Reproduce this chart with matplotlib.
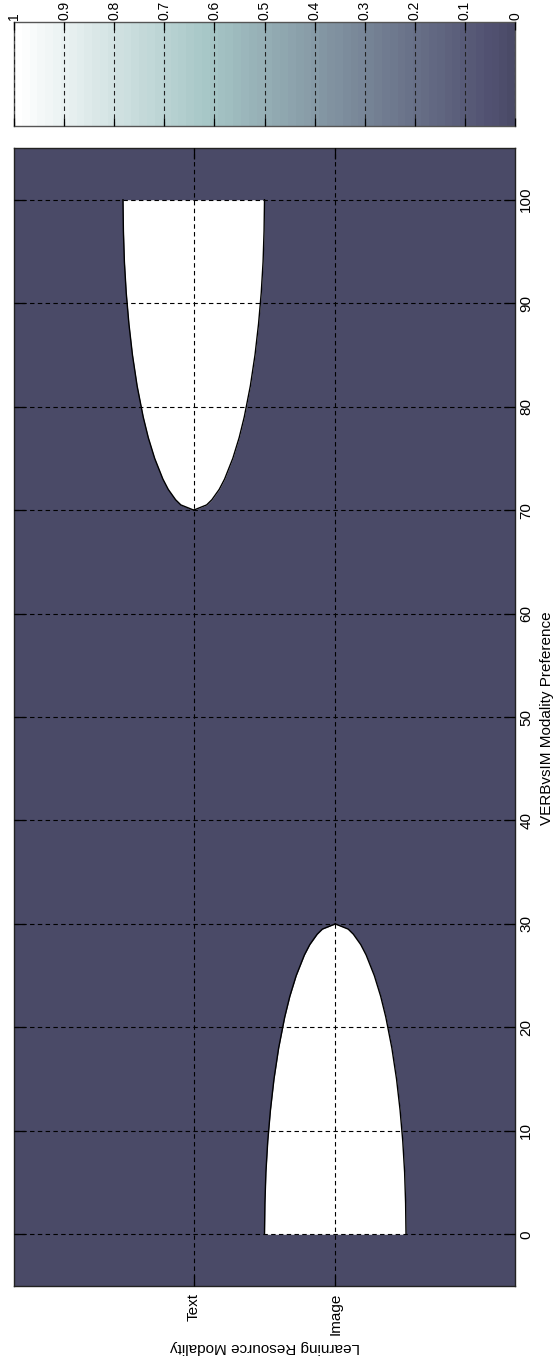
import numpy as np
import matplotlib.pyplot as plt
from matplotlib.colors import ListedColormap

plt.rcParams['font.family'] = ['Liberation Sans', 'DejaVu Sans']

# --- data ---
modality_labels = ['Image', 'Text']
modality_pos = [1, 2]
verb_ticks = [0, 10, 20, 30, 40, 50, 60, 70, 80, 90, 100]
cbar_ticks = [0, 0.1, 0.2, 0.3, 0.4, 0.5, 0.6, 0.7, 0.8, 0.9, 1]
cbar_labels = ['0', '0.1', '0.2', '0.3', '0.4', '0.5', '0.6', '0.7', '0.8', '0.9', '1']

# white (value 1) region: half width around each modality row
image_verb = [0, 3, 6, 9, 12, 15, 18, 21, 23, 25, 27, 28, 29, 29.5, 30]
image_half = [0.50, 0.497, 0.490, 0.477, 0.458, 0.433, 0.400, 0.357, 0.321,
              0.276, 0.218, 0.180, 0.128, 0.091, 0.0]
text_verb = [100, 97, 94, 91, 88, 85, 82, 79, 77, 75, 73, 72, 71, 70.5, 70]
text_half = [0.50, 0.497, 0.490, 0.477, 0.458, 0.433, 0.400, 0.357, 0.321,
             0.276, 0.218, 0.180, 0.128, 0.091, 0.0]

# colormap: upper part of bone, 64 steps
cmap = ListedColormap(plt.cm.bone(np.linspace(0.335, 1.0, 64)))

W, H = 554, 1357
fig = plt.figure(figsize=(W / 100, H / 100), dpi=100)

# main axes (drawn already turned on its side)
ax = fig.add_axes([14 / W, 1 - 1286 / H, 501 / W, 1138 / H])
ax.set_facecolor(cmap(0.0))

for centre, verb, half in [(1, image_verb, image_half), (2, text_verb, text_half)]:
    v = np.array(verb)
    h = np.array(half)
    ax.fill_betweenx(v, centre - h, centre + h, color=cmap(1.0), lw=0, zorder=1)
    ax.plot(centre - h, v, color='k', lw=1.0, zorder=2)
    ax.plot(centre + h, v, color='k', lw=1.0, zorder=2)

ax.set_xlim(3.27, -0.27)
ax.set_ylim(-5, 105)
ax.set_xticks(modality_pos)
ax.set_xticklabels(modality_labels, rotation=90, va='top', ha='center')
ax.set_yticks(verb_ticks)
ax.set_yticklabels([str(t) for t in verb_ticks], rotation=90, va='center', ha='left')
ax.yaxis.tick_right()
ax.tick_params(direction='in', length=8, width=0.9, top=True, bottom=True,
               left=True, right=True, labelleft=False, labelright=True,
               labelsize=11, colors='k')
ax.tick_params(axis='x', pad=5)
ax.tick_params(axis='y', pad=3)
ax.set_axisbelow(False)
ax.grid(True, color='k', linestyle=(0, (4, 3)), linewidth=0.8)
for s in ax.spines.values():
    s.set_color('#222222')
    s.set_linewidth(1.0)

# colorbar
cax = fig.add_axes([14 / W, 1 - 126 / H, 501 / W, 104 / H])
edges = np.linspace(0, 1, 65)
vals = (edges[:-1] + edges[1:]) / 2
cax.pcolormesh(edges, [0, 1], vals[np.newaxis, :], cmap=cmap, vmin=0, vmax=1)
cax.set_xlim(1, 0)
cax.set_ylim(0, 1)
cax.set_yticks([])
cax.set_xticks(cbar_ticks)
cax.set_xticklabels(cbar_labels, rotation=90, va='bottom', ha='center')
cax.xaxis.tick_top()
cax.tick_params(axis='x', direction='in', length=6, width=0.9, top=True,
                bottom=True, labeltop=True, labelbottom=False, labelsize=10, pad=1.5)
cax.set_axisbelow(False)
cax.grid(True, axis='x', color='#222222', linestyle=(0, (4, 3)), linewidth=0.8)
for s in cax.spines.values():
    s.set_color('#555555')
    s.set_linewidth(1.0)

fig.text(547 / W, 1 - 718 / H, 'VERBvsIM Modality Preference', rotation=90,
         ha='center', va='center', fontsize=11)
fig.text(264.5 / W, 1 - 1347 / H, 'Learning Resource Modality', rotation=180,
         ha='center', va='center', fontsize=11)

fig.savefig('out.png', dpi=100)
